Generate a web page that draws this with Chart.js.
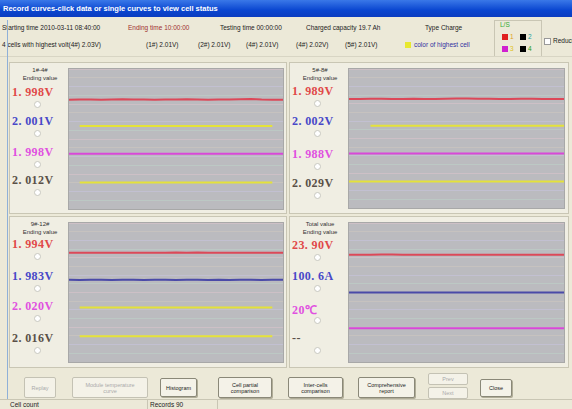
<!DOCTYPE html>
<html>
<head>
<meta charset="utf-8">
<script src="https://cdn.jsdelivr.net/npm/chart.js@4.4.1/dist/chart.umd.min.js"></script>
<style>
  body { margin: 0; width: 572px; height: 409px; overflow: hidden; background: #ece9d8; font-family: "Liberation Sans", sans-serif; position: relative; }
  .abs { position: absolute; white-space: nowrap; }
  .title { left: 0; top: 0; width: 572px; height: 17px; background: linear-gradient(#3a78e8, #0a46d0 60%, #0a3cc0); color: #fff; font: bold 7.5px "Liberation Sans", sans-serif; line-height: 17px; padding-left: 3px; box-sizing: border-box; }
  .info { font-size: 6.5px; color: #222; }
  .frame { border: 1px solid #c9c6b4; background: #f0eee3; box-sizing: border-box; }
  .plot { border: 1px solid #a8a8a8; background: #bbbbbf; box-sizing: border-box; }
  .hdr { font-size: 6px; color: #333; text-align: center; width: 56px; }
  .val { font: bold 12px "Liberation Serif", serif; letter-spacing: 0.4px; }
  .radio { width: 5px; height: 5px; border-radius: 50%; background: #fff; border: 1px solid #c8c8c0; }
  .btn { border: 1px solid #8a8878; border-radius: 2px; background: #f4f2e8; font-size: 5.5px; color: #222; text-align: center; display: flex; align-items: center; justify-content: center; line-height: 6px; box-shadow: 1px 1px 0 #b0ad98; }
  .dis { color: #aaa; border-color: #c4c2b4; box-shadow: none; }
  .sq { width: 6px; height: 6px; }
  canvas { display: block; }
</style>
</head>
<body>
<div class="abs title">Record curves-click data or single curves to view cell status</div>

<div class="abs info" style="left:2px;top:24px;">Starting time 2010-03-11 08:40:00</div>
<div class="abs info" style="left:128px;top:24px;color:#a03030;">Ending time 10:00:00</div>
<div class="abs info" style="left:220px;top:24px;">Testing time 00:00:00</div>
<div class="abs info" style="left:306px;top:24px;">Charged capacity 19.7 Ah</div>
<div class="abs info" style="left:425px;top:24px;">Type Charge</div>
<div class="abs info" style="left:2px;top:41px;">4 cells with highest volt(4#) 2.03V)</div>
<div class="abs info" style="left:146px;top:41px;">(1#) 2.01V)</div>
<div class="abs info" style="left:198px;top:41px;">(2#) 2.01V)</div>
<div class="abs info" style="left:246px;top:41px;">(4#) 2.01V)</div>
<div class="abs info" style="left:296px;top:41px;">(4#) 2.02V)</div>
<div class="abs info" style="left:345px;top:41px;">(5#) 2.01V)</div>
<div class="abs" style="left:405px;top:42px;width:6px;height:6px;background:#e8e830;"></div>
<div class="abs info" style="left:414px;top:41px;color:#3030a0;">color of highest cell</div>
<div class="abs" style="left:494px;top:20px;width:46px;height:35px;border:1px solid #c9c6b4;"></div>
<div class="abs info" style="left:500px;top:21px;color:#3a3;">L/S</div>
<div class="abs sq" style="left:502px;top:34px;background:#e02020;"></div>
<div class="abs info" style="left:510px;top:33px;color:#e0a020;">1</div>
<div class="abs sq" style="left:520px;top:34px;background:#000;"></div>
<div class="abs info" style="left:528px;top:33px;color:#20a0a0;">2</div>
<div class="abs sq" style="left:502px;top:46px;background:#d020d0;"></div>
<div class="abs info" style="left:510px;top:45px;color:#e0c020;">3</div>
<div class="abs sq" style="left:520px;top:46px;background:#000;"></div>
<div class="abs info" style="left:528px;top:45px;color:#20a020;">4</div>
<div class="abs" style="left:544px;top:38px;width:5px;height:5px;border:1px solid #999;background:#fff;"></div>
<div class="abs info" style="left:553px;top:37px;">Reduce</div>
<div class="abs" style="left:0;top:56px;width:572px;height:1px;background:#d8d5c4;"></div>
<div class="abs" style="left:7px;top:20px;width:1px;height:380px;background:#8fb0d8;"></div>

<div class="abs frame" style="left:9px;top:62px;width:278px;height:152px;"></div>
<div class="abs frame" style="left:289px;top:62px;width:280px;height:152px;"></div>
<div class="abs frame" style="left:9px;top:216px;width:278px;height:152px;"></div>
<div class="abs frame" style="left:289px;top:216px;width:280px;height:152px;"></div>

<div class="abs plot" style="left:68px;top:68px;width:216px;height:142px;"><canvas id="c1"></canvas></div>
<div class="abs plot" style="left:348px;top:68px;width:217px;height:141px;"><canvas id="c2"></canvas></div>
<div class="abs plot" style="left:68px;top:222px;width:216px;height:141px;"><canvas id="c3"></canvas></div>
<div class="abs plot" style="left:348px;top:222px;width:217px;height:141px;"><canvas id="c4"></canvas></div>

<div id="labels"></div>

<div class="abs btn dis" style="left:24px;top:377px;width:30px;height:19px;">Replay</div>
<div class="abs btn dis" style="left:72px;top:377px;width:74px;height:19px;">Module temperature<br>curve</div>
<div class="abs btn" style="left:160px;top:378px;width:35px;height:17px;">Histogram</div>
<div class="abs btn" style="left:218px;top:377px;width:52px;height:19px;">Cell partial<br>comparison</div>
<div class="abs btn" style="left:288px;top:377px;width:53px;height:19px;">Inter-cells<br>comparison</div>
<div class="abs btn" style="left:358px;top:377px;width:55px;height:19px;">Comprehensive<br>report</div>
<div class="abs btn dis" style="left:428px;top:373px;width:38px;height:10px;">Prev</div>
<div class="abs btn dis" style="left:428px;top:387px;width:38px;height:10px;">Next</div>
<div class="abs btn" style="left:480px;top:379px;width:30px;height:16px;">Close</div>
<div class="abs" style="left:0;top:399px;width:572px;height:1px;background:#c9c6b4;"></div>
<div class="abs info" style="left:10px;top:401px;">Cell count</div>
<div class="abs" style="left:147px;top:400px;width:1px;height:9px;background:#c9c6b4;"></div>
<div class="abs info" style="left:150px;top:401px;">Records 90</div>
<div class="abs" style="left:217px;top:400px;width:1px;height:9px;background:#c9c6b4;"></div>

<script>
// x points along the record
const samples = ['0','1','2','3','4','5','6','7','8','9','10','11','12','13','14','15','16','17','18','19','20'];

// panel 1: cells 1#-4#
const p1Red     = [3.90,3.91,3.91,3.90,3.91,3.92,3.91,3.91,3.90,3.91,3.91,3.92,3.91,3.90,3.91,3.91,3.92,3.93,3.91,3.90,3.90];
const p1Yellow  = [null,2.96,2.96,2.96,2.96,2.96,2.96,2.96,2.96,2.96,2.96,2.96,2.96,2.96,2.96,2.96,2.96,2.96,2.96,2.96,null];
const p1Magenta = [1.97,1.97,1.97,1.97,1.97,1.97,1.97,1.97,1.97,1.97,1.97,1.97,1.97,1.97,1.97,1.97,1.97,1.97,1.97,1.97,1.97];
const p1Yellow2 = [null,0.95,0.95,0.95,0.95,0.95,0.95,0.95,0.95,0.95,0.95,0.95,0.95,0.95,0.95,0.95,0.95,0.95,0.95,0.95,null];
const p1Values  = ['1. 998V','2. 001V','1. 998V','2. 012V'];

// panel 2: cells 5#-8#
const p2Red     = [3.92,3.92,3.93,3.93,3.92,3.92,3.93,3.92,3.92,3.93,3.94,3.94,3.93,3.93,3.92,3.92,3.93,3.93,3.92,3.92,3.92];
const p2Yellow  = [null,null,2.96,2.96,2.96,2.96,2.96,2.96,2.96,2.96,2.96,2.96,2.96,2.96,2.96,2.96,2.96,2.96,2.96,2.96,2.96];
const p2Magenta = [1.96,1.96,1.96,1.96,1.96,1.96,1.96,1.96,1.96,1.96,1.96,1.96,1.96,1.96,1.96,1.96,1.96,1.96,1.96,1.96,1.96];
const p2Yellow2 = [0.95,0.95,0.95,0.95,0.95,0.95,0.95,0.95,0.95,0.95,0.95,0.95,0.95,0.95,0.95,0.95,0.95,0.95,0.95,0.95,0.95];
const p2Values  = ['1. 989V','2. 002V','1. 988V','2. 029V'];

// panel 3: cells 9#-12#
const p3Red     = [3.93,3.93,3.93,3.93,3.93,3.93,3.93,3.93,3.93,3.93,3.94,3.93,3.94,3.93,3.93,3.93,3.93,3.93,3.93,3.93,3.93];
const p3Blue    = [2.96,2.95,2.96,2.96,2.95,2.96,2.96,2.95,2.96,2.96,2.95,2.96,2.96,2.95,2.96,2.95,2.96,2.96,2.95,2.96,2.96];
const p3Yellow  = [null,1.96,1.96,1.96,1.96,1.96,1.96,1.96,1.96,1.96,1.96,1.96,1.96,1.96,1.96,1.96,1.96,1.96,1.96,1.96,null];
const p3Yellow2 = [null,0.93,0.93,0.93,0.93,0.93,0.93,0.93,0.93,0.93,0.93,0.93,0.93,0.93,0.93,0.93,0.93,0.93,0.93,0.93,null];
const p3Values  = ['1. 994V','1. 983V','2. 020V','2. 016V'];

// panel 4: totals
const p4Red     = [3.86,3.86,3.86,3.87,3.87,3.86,3.86,3.86,3.86,3.86,3.86,3.86,3.86,3.86,3.86,3.86,3.86,3.86,3.86,3.86,3.86];
const p4Blue    = [2.50,2.50,2.50,2.50,2.50,2.50,2.50,2.50,2.50,2.50,2.50,2.50,2.50,2.50,2.50,2.50,2.50,2.50,2.50,2.50,2.50];
const p4Magenta = [1.21,1.21,1.21,1.21,1.21,1.21,1.21,1.21,1.21,1.21,1.21,1.21,1.21,1.21,1.21,1.21,1.21,1.21,1.21,1.21,1.21];
const p4Values  = ['23. 90V','100. 6A','20\u2103','--'];

const headers = ['1#-4#','5#-8#','9#-12#','Total value'];

const RED = '#dc4858', YELLOW = '#e4e23a', MAGENTA = '#d848d8', BLUE = '#4a4aa8';
const gridColors = ['rgba(220,196,204,0.55)','rgba(190,212,200,0.55)','rgba(200,196,224,0.55)','rgba(212,204,190,0.45)'];

function makeChart(id, series) {
  new Chart(document.getElementById(id), {
    type: 'line',
    data: {
      labels: samples,
      datasets: series.map(s => ({
        data: s[0], borderColor: s[1], borderWidth: 2, pointRadius: 0, tension: 0, spanGaps: false
      }))
    },
    options: {
      responsive: true, maintainAspectRatio: false, animation: false,
      layout: { padding: 0 },
      plugins: { legend: { display: false }, tooltip: { enabled: false } },
      scales: {
        x: { display: false, offset: false },
        y: {
          min: 0, max: 5,
          ticks: { display: false, count: 17, padding: 0 },
          grid: { drawTicks: false, color: ctx => gridColors[ctx.index % gridColors.length] },
          border: { display: false }
        }
      }
    }
  });
}

makeChart('c1', [[p1Red, RED], [p1Yellow, YELLOW], [p1Magenta, MAGENTA], [p1Yellow2, YELLOW]]);
makeChart('c2', [[p2Red, RED], [p2Yellow, YELLOW], [p2Magenta, MAGENTA], [p2Yellow2, YELLOW]]);
makeChart('c3', [[p3Red, RED], [p3Blue, BLUE], [p3Yellow, YELLOW], [p3Yellow2, YELLOW]]);
makeChart('c4', [[p4Red, RED], [p4Blue, BLUE], [p4Magenta, MAGENTA]]);

// left label columns of each panel
const textColors = ['#e04848', '#4848c8', '#e050e0', '#5a5048'];
const panels = [
  { x: 10, top: 62, values: p1Values, ys: [93, 122, 153, 181] },
  { x: 290, top: 62, values: p2Values, ys: [92, 122, 155, 184] },
  { x: 10, top: 216, values: p3Values, ys: [245, 277, 307, 339] },
  { x: 290, top: 216, values: p4Values, ys: [246, 277, 309, 339] }
];
const holder = document.getElementById('labels');
panels.forEach((p, i) => {
  let html = '<div class="abs hdr" style="left:' + (p.x + 2) + 'px;top:' + (p.top + 5) + 'px;">' + headers[i] + '</div>';
  html += '<div class="abs hdr" style="left:' + (p.x + 2) + 'px;top:' + (p.top + 13) + 'px;">Ending value</div>';
  p.values.forEach((v, j) => {
    html += '<div class="abs val" style="left:' + (p.x + 2) + 'px;top:' + (p.ys[j] - 8) + 'px;color:' + textColors[j] + ';">' + v + '</div>';
    html += '<div class="abs radio" style="left:' + (p.x + 24) + 'px;top:' + (p.ys[j] + 8) + 'px;"></div>';
  });
  holder.insertAdjacentHTML('beforeend', html);
});
</script>
</body>
</html>
